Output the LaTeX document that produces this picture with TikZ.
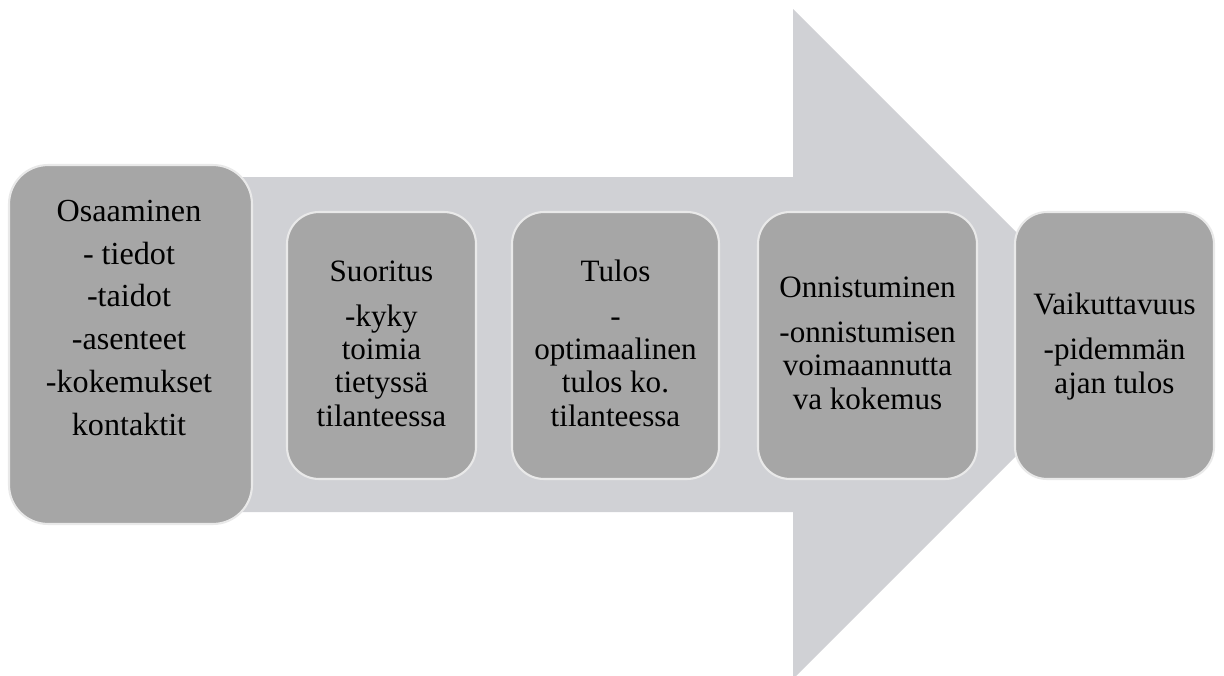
\documentclass[tikz,border=0pt]{standalone}
\usepackage{fontspec}
\setmainfont{Liberation Serif}
\definecolor{arrowgray}{HTML}{D0D1D5}
\definecolor{boxgray}{HTML}{A6A6A6}
\definecolor{boxline}{HTML}{E9E9E9}
\begin{document}
\begin{tikzpicture}[x=0.02cm,y=-0.02cm,
  box/.style={draw=boxline, line width=1.2pt, fill=boxgray, rounded corners=0.64cm, inner sep=0pt, outer sep=0pt},
  bigbox/.style={box, rounded corners=0.78cm},
  lbl/.style={align=center, anchor=base, inner sep=0pt, font=\fontsize{17.7pt}{18.8pt}\selectfont, text=black},
  biglbl/.style={lbl, font=\fontsize{18.3pt}{18.8pt}\selectfont}]
\useasboundingbox (0,0) rectangle (1224,676);
% big arrow
\fill[arrowgray] (240,177) -- (793,177) -- (793,9) -- (1128,344) -- (793,679) -- (793,512) -- (240,512) -- cycle;
% boxes
\node[bigbox, minimum width=4.86cm, minimum height=7.18cm] (b1) at (130.5,344.5) {};
\node[box, minimum width=3.78cm, minimum height=5.34cm] (b2) at (381.5,345.5) {};
\node[box, minimum width=4.14cm, minimum height=5.34cm] (b3) at (615.5,345.5) {};
\node[box, minimum width=4.38cm, minimum height=5.34cm] (b4) at (867.5,345.5) {};
\node[box, minimum width=3.98cm, minimum height=5.34cm] (b5) at (1114.5,345.5) {};
% texts (base anchor = baseline of last line)
\node[biglbl] (t1) at (129,435) {Osaaminen\\[5.5pt]- tiedot\\[5.5pt]-taidot\\[5.5pt]-asenteet\\[5.5pt]-kokemukset\\[5.5pt]kontaktit};
\node[lbl] (t2) at (381.5,426) {Suoritus\\[7.3pt]-kyky\\toimia\\tietyssä\\tilanteessa};
\node[lbl] (t3) at (615.5,426) {Tulos\\[7.3pt]-\\optimaalinen\\tulos ko.\\tilanteessa};
\node[lbl] (t4) at (867.5,409) {Onnistuminen\\[7.3pt]-onnistumisen\\voimaannutta\\va kokemus};
\node[lbl] (t5) at (1114.5,393) {Vaikuttavuus\\[7.3pt]-pidemmän\\ajan tulos};
\end{tikzpicture}
\end{document}
